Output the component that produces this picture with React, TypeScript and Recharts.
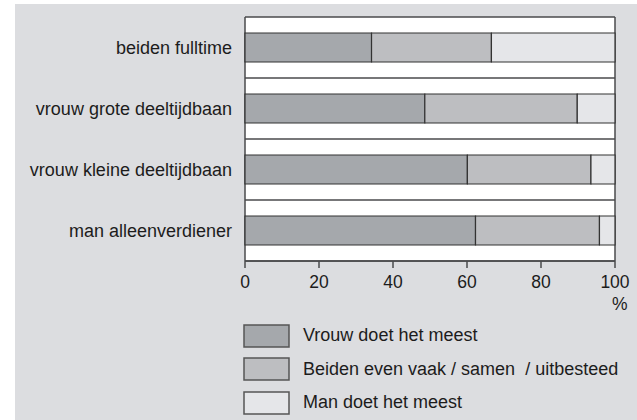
import { BarChart, Bar, XAxis, YAxis, CartesianGrid, Legend } from 'recharts'

const categories = ['beiden fulltime', 'vrouw grote deeltijdbaan', 'vrouw kleine deeltijdbaan', 'man alleenverdiener']
const vrouwMeest = [34.2, 48.6, 60.1, 62.3]
const beidenSamen = [32.4, 41.2, 33.4, 33.5]
const manMeest = [33.4, 10.2, 6.5, 4.2]
const xTicks = [0, 20, 40, 60, 80, 100]

const seriesKeys = ['vrouw', 'beiden', 'man']
const seriesNames = ['Vrouw doet het meest', 'Beiden even vaak / samen  / uitbesteed', 'Man doet het meest']
const seriesColors = ['#a5a8ac', '#bdbec1', '#e5e6e9']

const data = categories.map((name, i) => ({
  name,
  vrouw: vrouwMeest[i],
  beiden: beidenSamen[i],
  man: manMeest[i],
}))

const FONT = '"Liberation Sans", Arial, sans-serif'
const FRAME = '#4a4a4c'
const TEXT = '#1c1c1c'

function LegendBox() {
  return (
    <div style={{ fontFamily: FONT, fontSize: 18, color: TEXT }}>
      {seriesNames.map((n, i) => (
        <div key={n} style={{ display: 'flex', alignItems: 'center', height: 33.5 }}>
          <svg width={48} height={24} style={{ marginRight: 12 }}>
            <rect x={1} y={1} width={45} height={22} fill={seriesColors[i]} stroke="#555" strokeWidth={1.5} />
          </svg>
          <span style={{ whiteSpace: 'pre' }}>{n}</span>
        </div>
      ))}
    </div>
  )
}

// grid lines on the band edges (between categories) and on the plot frame
const bandLines = ({ offset }: any) =>
  [0, 1, 2, 3, 4].map((i) => offset.top + (i * offset.height) / categories.length)
const frameLines = ({ offset }: any) => [offset.left, offset.left + offset.width]

export default function App() {
  return (
    <div style={{ position: 'absolute', left: 0, top: 0, width: 637, height: 420, background: '#fff' }}>
      <div style={{ position: 'absolute', left: 15, top: 4, width: 622, height: 416, background: '#dcdde0' }} />
      <div style={{ position: 'absolute', left: 0, top: 0 }}>
        <BarChart
          width={637}
          height={420}
          data={data}
          layout="vertical"
          margin={{ top: 17, right: 22, bottom: 109, left: 15 }}
          barSize={29}
        >
          <CartesianGrid
            fill="#fff"
            fillOpacity={1}
            stroke={FRAME}
            strokeWidth={1.5}
            horizontalCoordinatesGenerator={bandLines}
            verticalCoordinatesGenerator={frameLines}
          />
          <XAxis
            type="number"
            domain={[0, 100]}
            ticks={xTicks}
            axisLine={{ stroke: FRAME, strokeWidth: 1.5 }}
            tickLine={{ stroke: FRAME, strokeWidth: 1.5 }}
            tickSize={7}
            tickMargin={8}
            height={50}
            tick={{ fill: TEXT, fontSize: 17.5, fontFamily: FONT }}
            label={{ value: '%', position: 'right', dx: -8, dy: 18, fill: TEXT, fontSize: 17.5, fontFamily: FONT }}
          />
          <YAxis
            type="category"
            dataKey="name"
            width={230}
            axisLine={false}
            tickLine={false}
            tickSize={0}
            tickMargin={13}
            tick={{ fill: TEXT, fontSize: 18, fontFamily: FONT }}
          />
          {seriesKeys.map((k, i) => (
            <Bar
              key={k}
              dataKey={k}
              name={seriesNames[i]}
              stackId="a"
              fill={seriesColors[i]}
              stroke="#333"
              strokeWidth={1.2}
              isAnimationActive={false}
            />
          ))}
          <Legend
            content={<LegendBox />}
            layout="vertical"
            verticalAlign="middle"
            align="center"
            wrapperStyle={{ left: 243, top: 319, width: 390 }}
          />
        </BarChart>
      </div>
    </div>
  )
}
